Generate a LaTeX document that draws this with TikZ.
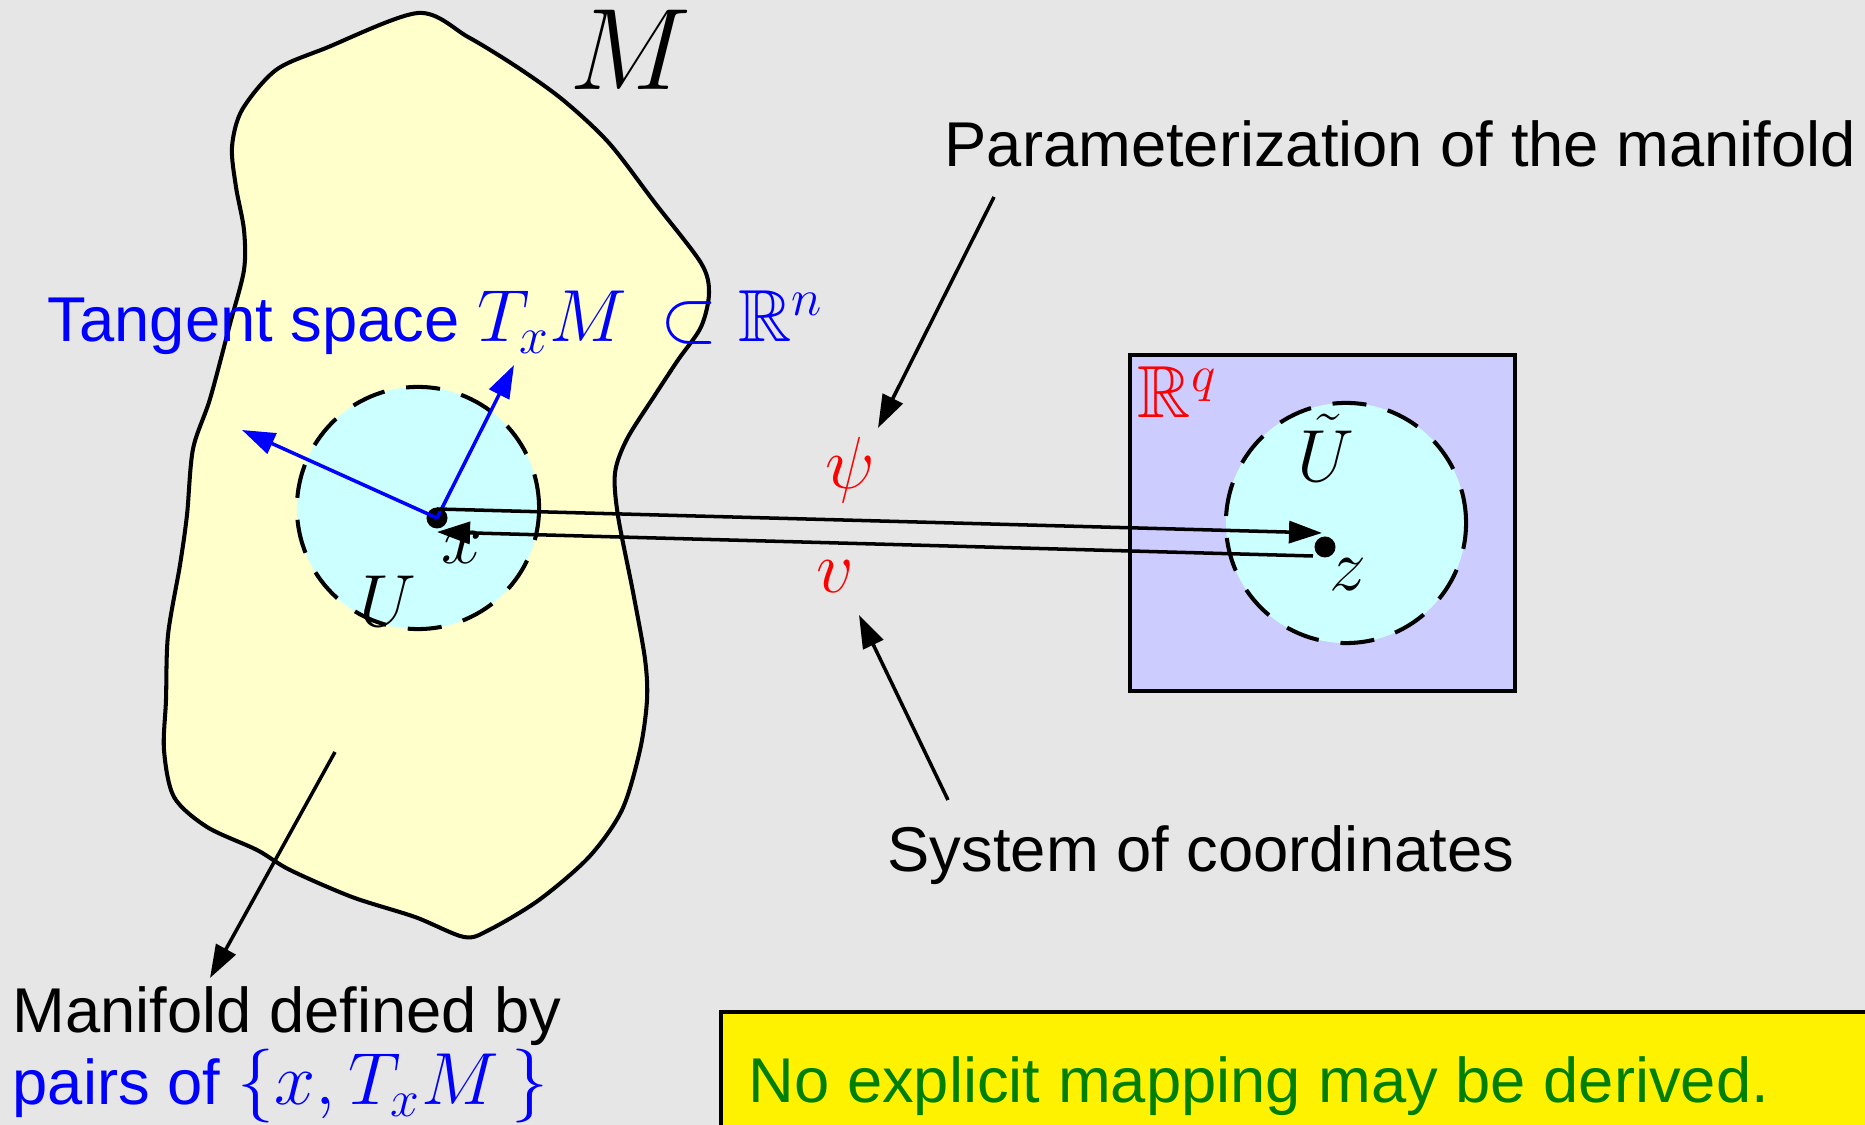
\RequirePackage{fix-cm}
\documentclass[tikz,border=0pt]{standalone}
\usepackage{amsmath, amssymb}
\usepackage[no-math]{fontspec}
\setmainfont{Liberation Sans}
\usetikzlibrary{arrows.meta, positioning, calc}
\definecolor{bggray}{RGB}{230,230,230}
\definecolor{mfdyellow}{RGB}{255,255,204}
\definecolor{nbhdcyan}{RGB}{204,255,255}
\definecolor{chartblue}{RGB}{204,204,255}
\definecolor{notegreen}{RGB}{0,128,0}
\newcommand{\mathsz}{\fontsize{21}{25}\selectfont}

\begin{document}
\begin{tikzpicture}[x=0.01cm, y=-0.01cm, >={Triangle[length=3.3mm, width=2.2mm]},
    txt/.style={font=\fontsize{18}{22}\selectfont, inner sep=0pt},
    mth/.style={font=\mathsz, inner sep=0pt},
    ptr/.style={->, line width=1pt},
    outl/.style={line width=1.15pt},
    nbhd/.style={draw, fill=nbhdcyan, line width=1.15pt, dash pattern=on 0.34cm off 0.22cm},
    pnt/.style={circle, fill=black, inner sep=0pt, minimum size=0.21cm}]
  % Canvas
  \useasboundingbox (0,0) rectangle (1865,1125);
  \fill[bggray] (0,0) rectangle (1865,1125);
  \clip (0,0) rectangle (1865,1125);

  % Manifold
  \draw[outl, fill=mfdyellow] plot[smooth cycle] coordinates {
    (418,13) (468,37) (517,67) (563,100) (609,143) (655,203) (701,263) (709,293)
    (701,327) (678,360) (655,395) (627,439) (615,473) (618,516) (633,592) (645,659)
    (647,700) (640,750) (622,810) (589,857) (539,900) (489,930) (464,937) (415,917)
    (352,897) (290,870) (257,850) (207,827) (174,797) (164,750) (166,700) (168,635)
    (180,565) (187,515) (193,449) (210,399) (230,324) (244,270) (244,230) (236,187)
    (232,147) (242,110) (276,70) (326,48)};
  \node[mth, font=\fontsize{33}{38}\selectfont] (M) at (631,50) {$M$};

  % Neighbourhood U and point x
  \draw[nbhd] (418,508) circle[radius=1.21cm];
  \node[pnt] (xdot) at (437,518) {};
  \node[mth] (xlab) at (462,548) {$x$};
  \node[mth] (Ulab) at (388,601) {$U$};

  % Tangent vectors
  \coordinate (tanA) at (514,365);
  \coordinate (tanB) at (242,430);
  \draw[ptr, blue] (xdot.center) -- (tanA);
  \draw[ptr, blue] (xdot.center) -- (tanB);
  \node[txt, blue, anchor=base west] (tang) at (47,342)
    {Tangent space {\mathsz$T_xM\,\subset\mathbb{R}^n$}};

  % Chart R^q
  \draw[outl, fill=chartblue] (1130,355) rectangle (1515,691);
  \node[mth, red, anchor=base west] (Rq) at (1137,418) {$\mathbb{R}^q$};
  \draw[nbhd] (1346,523) circle[radius=1.2cm];
  \node[pnt] (zdot) at (1325,547) {};
  \node[mth] (zlab) at (1348,575) {$z$};
  \node[mth] (Utlab) at (1326,448) {$\tilde{U}$};

  % Maps psi and v
  \draw[ptr] ([yshift=0.09cm]xdot.center) -- ([shift={(-0.03cm,0.14cm)}]zdot.center);
  \draw[ptr] ([shift={(-0.12cm,-0.09cm)}]zdot.center) -- ([yshift=-0.14cm]xdot.center);
  \node[mth, red] (psi) at (850,470) {$\psi$};
  \node[mth, red] (vlab) at (835,577) {$v$};

  % Annotations
  \node[txt, anchor=base west] (param) at (944,167) {Parameterization of the manifold};
  \coordinate (paramS) at (994,197);
  \coordinate (paramT) at (878,428);
  \draw[ptr] (paramS) -- (paramT);

  \node[txt, anchor=base west] (sysc) at (887,872) {System of coordinates};
  \coordinate (syscS) at (948,800);
  \coordinate (syscT) at (859,615);
  \draw[ptr] (syscS) -- (syscT);

  \node[txt, anchor=base west] (mdef) at (12,1033) {Manifold defined by};
  \node[txt, blue, anchor=base west] (pairs) at (12,1105)
    {pairs of\ {\mathsz$\{x, T_xM\,\}$}};
  \coordinate (mdefS) at (335,752);
  \coordinate (mdefT) at (210,978);
  \draw[ptr] (mdefS) -- (mdefT);

  % Note
  \draw[outl, fill=yellow] (721,1012) rectangle (1900,1150);
  \node[txt, notegreen, anchor=base west] (note) at (748,1103) {No explicit mapping may be derived.};
\end{tikzpicture}
\end{document}
